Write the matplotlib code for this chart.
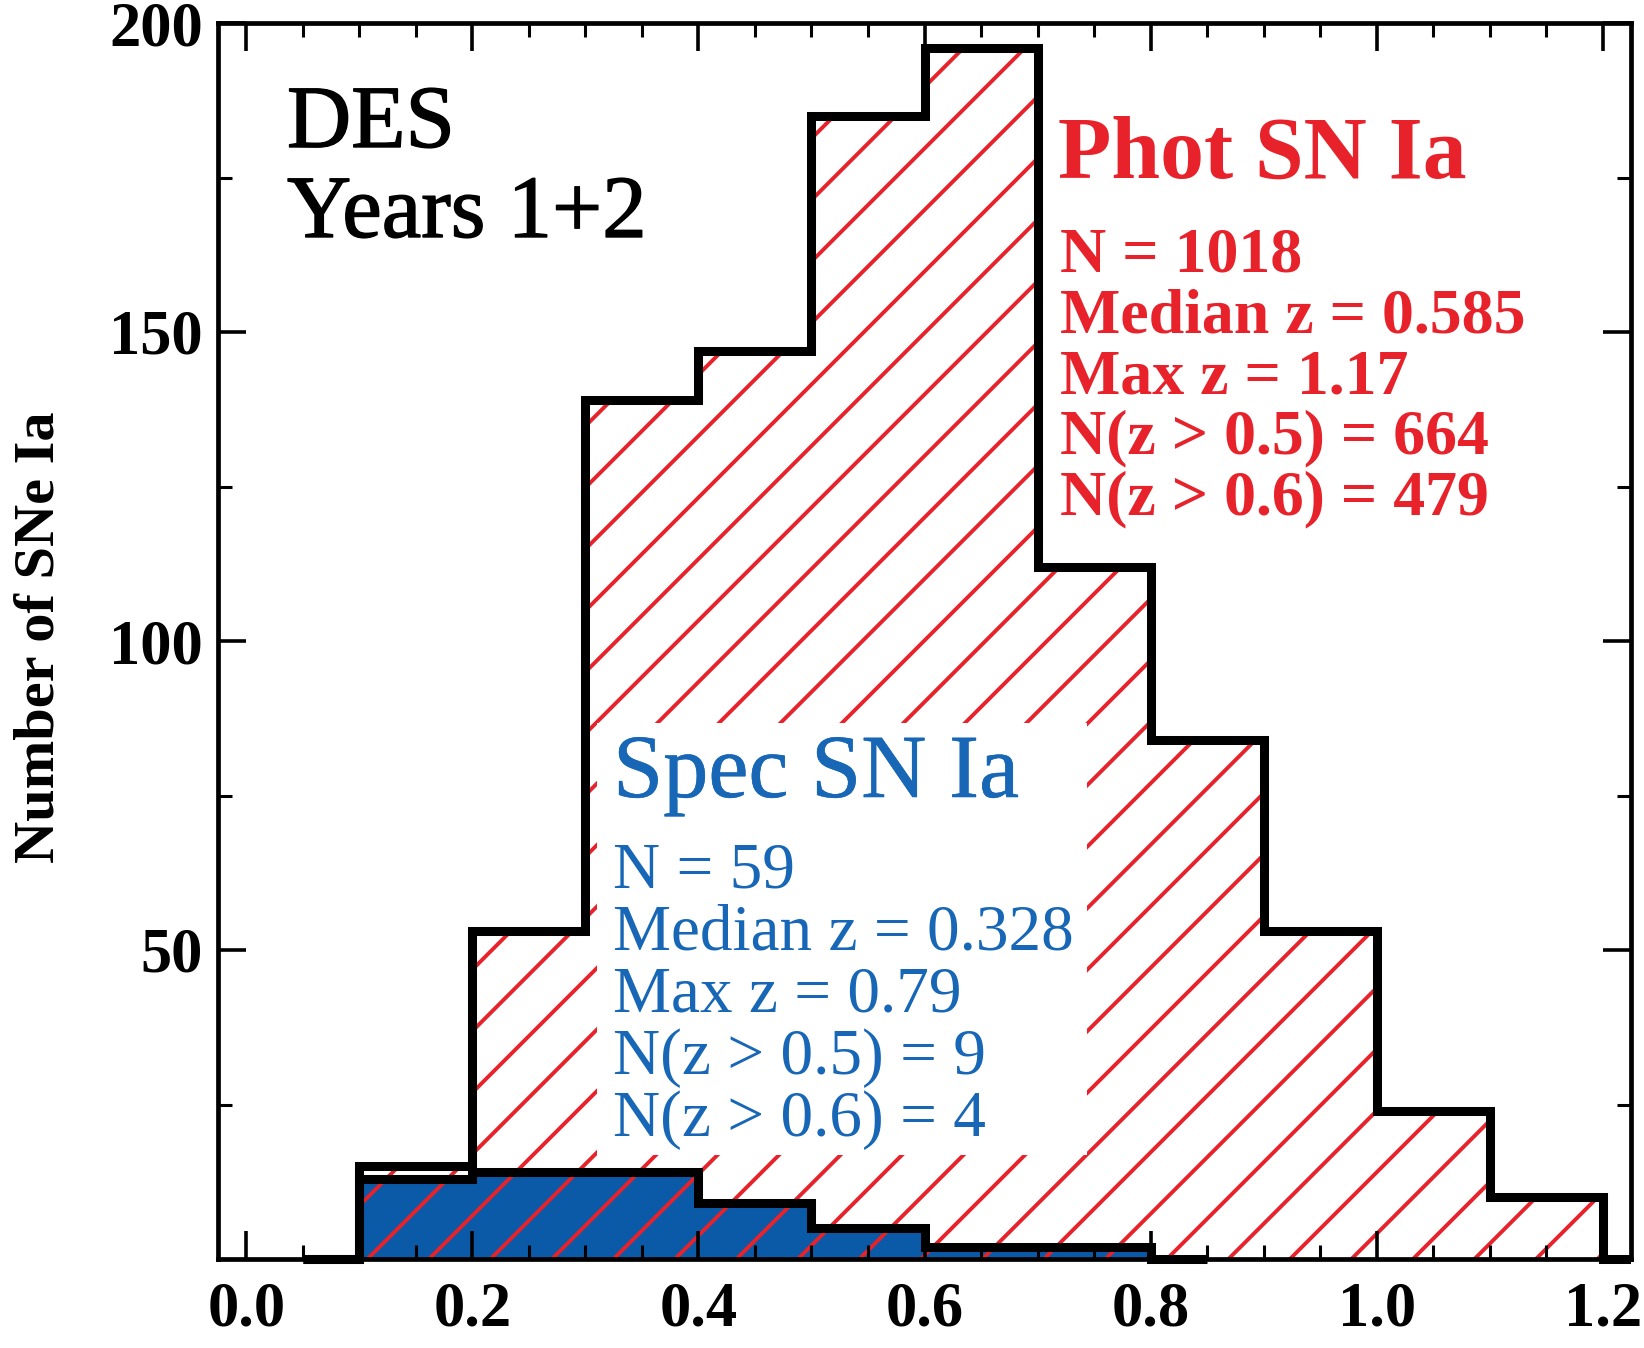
import numpy as np
import matplotlib
matplotlib.use("Agg")
import matplotlib.pyplot as plt
import matplotlib.patheffects as pe
from matplotlib.collections import LineCollection
from matplotlib.patches import Polygon, Rectangle
from matplotlib.ticker import MultipleLocator

# Redshift histogram, bins of 0.1 starting at z = 0.1
bin_width = 0.1
phot_z_start = 0.1
phot_counts = [15, 53, 139, 147, 185, 196, 112, 84, 53, 24, 10]
spec_z_start = 0.1
spec_counts = [13, 14, 14, 9, 5, 2, 2]

phot_stats = ["N = 1018", "Median z = 0.585", "Max z = 1.17",
              "N(z > 0.5) = 664", "N(z > 0.6) = 479"]
spec_stats = ["N = 59", "Median z = 0.328", "Max z = 0.79",
              "N(z > 0.5) = 9", "N(z > 0.6) = 4"]

RED = "#e8222a"
BLUE_FILL = "#0a5aa8"
BLUE_TEXT = "#1767b6"
SERIF = "Liberation Serif"

W, H = 1644, 1348


def step_outline(z_start, counts):
    # histogram outline with half-width empty bins at both ends
    edges = z_start + bin_width * np.arange(len(counts) + 1)
    xs = [z_start - bin_width / 2, z_start]
    ys = [0, 0]
    for i, c in enumerate(counts):
        xs += [edges[i], edges[i + 1]]
        ys += [c, c]
    xs += [edges[-1], edges[-1] + bin_width / 2]
    ys += [0, 0]
    return np.array(xs), np.array(ys)


fig = plt.figure(figsize=(W / 100, H / 100), dpi=100)
ax_l, ax_r, ax_t, ax_b = 218, 1631, 23, 1259
aw, ah = ax_r - ax_l, ax_b - ax_t
ax = fig.add_axes([ax_l / W, 1 - ax_b / H, aw / W, ah / H])
ax.set_xlim(-0.025, 1.225)
ax.set_ylim(0, 200)

px, py = step_outline(phot_z_start, phot_counts)
sx, sy = step_outline(spec_z_start, spec_counts)

# spectroscopic sample: solid blue
ax.fill(sx, sy, color=BLUE_FILL, lw=0, zorder=1)

# photometric sample: red diagonal hatching, clipped to the histogram
phot_poly = Polygon(np.column_stack([px, py]), closed=True, fill=False,
                    lw=0, transform=ax.transData)
ax.add_patch(phot_poly)
spacing = 61.5 / aw
x0s = 0.6716 + spacing * np.arange(-40, 30)
segs = [[(x0, 0), (x0 + ah / aw, 1)] for x0 in x0s]   # 45 deg on screen
hatch = LineCollection(segs, colors=RED, linewidths=2.8,
                       transform=ax.transAxes, zorder=2)
ax.add_collection(hatch)
hatch.set_clip_path(phot_poly)

# blank panel behind the spectroscopic labels
bx0, bx1, by0, by1 = 597, 1087, 723, 1155
ax.add_patch(Rectangle(((bx0 - ax_l) / aw, (ax_b - by1) / ah),
                       (bx1 - bx0) / aw, (by1 - by0) / ah,
                       transform=ax.transAxes, color="white", lw=0, zorder=2.5))

# thick black outlines, allowed to spill just below the x axis
clip_rect = Rectangle((0, -0.05), 1, 1.1, transform=ax.transAxes)
for xs, ys in [(sx, sy), (px, py)]:
    ln, = ax.plot(xs, ys, color="black", lw=6.5, zorder=3,
                  solid_joinstyle="miter", solid_capstyle="butt")
    ln.set_clip_path(clip_rect)

# axes styling
ax.xaxis.set_major_locator(MultipleLocator(0.2))
ax.xaxis.set_minor_locator(MultipleLocator(0.05))
ax.yaxis.set_major_locator(MultipleLocator(50))
ax.yaxis.set_minor_locator(MultipleLocator(25))
ax.tick_params(which="both", direction="in", top=True, right=True)
ax.tick_params(which="major", length=20, width=2.6)
ax.tick_params(which="minor", length=10, width=2.2)
ax.tick_params(axis="x", which="major", pad=16)
ax.tick_params(axis="y", which="major", pad=11)
ax.set_yticks([50, 100, 150, 200])
ax.set_xticklabels([f"{v:.1f}" for v in ax.get_xticks()])
for lab in ax.get_xticklabels() + ax.get_yticklabels():
    lab.set_fontfamily(SERIF)
    lab.set_fontweight("bold")
    lab.set_fontsize(45)
for sp in ax.spines.values():
    sp.set_linewidth(3.4)
    sp.set_zorder(5)
ax.xaxis.set_zorder(5)
ax.yaxis.set_zorder(5)

fig.text(40 / W, 1 - 637 / H, "Number of SNe Ia", rotation=90,
         ha="center", va="center", family=SERIF, weight="bold", fontsize=42)


# annotations
def ftext(x, y, s, stroke=0, **kw):
    t = fig.text(x / W, 1 - y / H, s, ha="left", va="baseline",
                 family=SERIF, **kw)
    if stroke:
        # slightly heavier strokes for the regular-weight title
        t.set_path_effects([pe.withStroke(linewidth=stroke,
                                          foreground=kw.get("color", "black"))])
    return t


ftext(287, 147, "DES", stroke=1.0, fontsize=64, color="black")
ftext(287, 237, "Years 1+2", stroke=1.0, fontsize=64, color="black")

ftext(1058, 178, "Phot SN Ia", fontsize=63, color=RED, weight="bold")
for i, s in enumerate(phot_stats):
    ftext(1060, 272 + 60.5 * i, s, fontsize=46, color=RED, weight="bold")

ftext(613, 797, "Spec SN Ia", stroke=0.4, fontsize=65, color=BLUE_TEXT)
for i, s in enumerate(spec_stats):
    ftext(613, 888 + 62 * i, s, fontsize=47, color=BLUE_TEXT)

fig.savefig("out.png", dpi=100)
